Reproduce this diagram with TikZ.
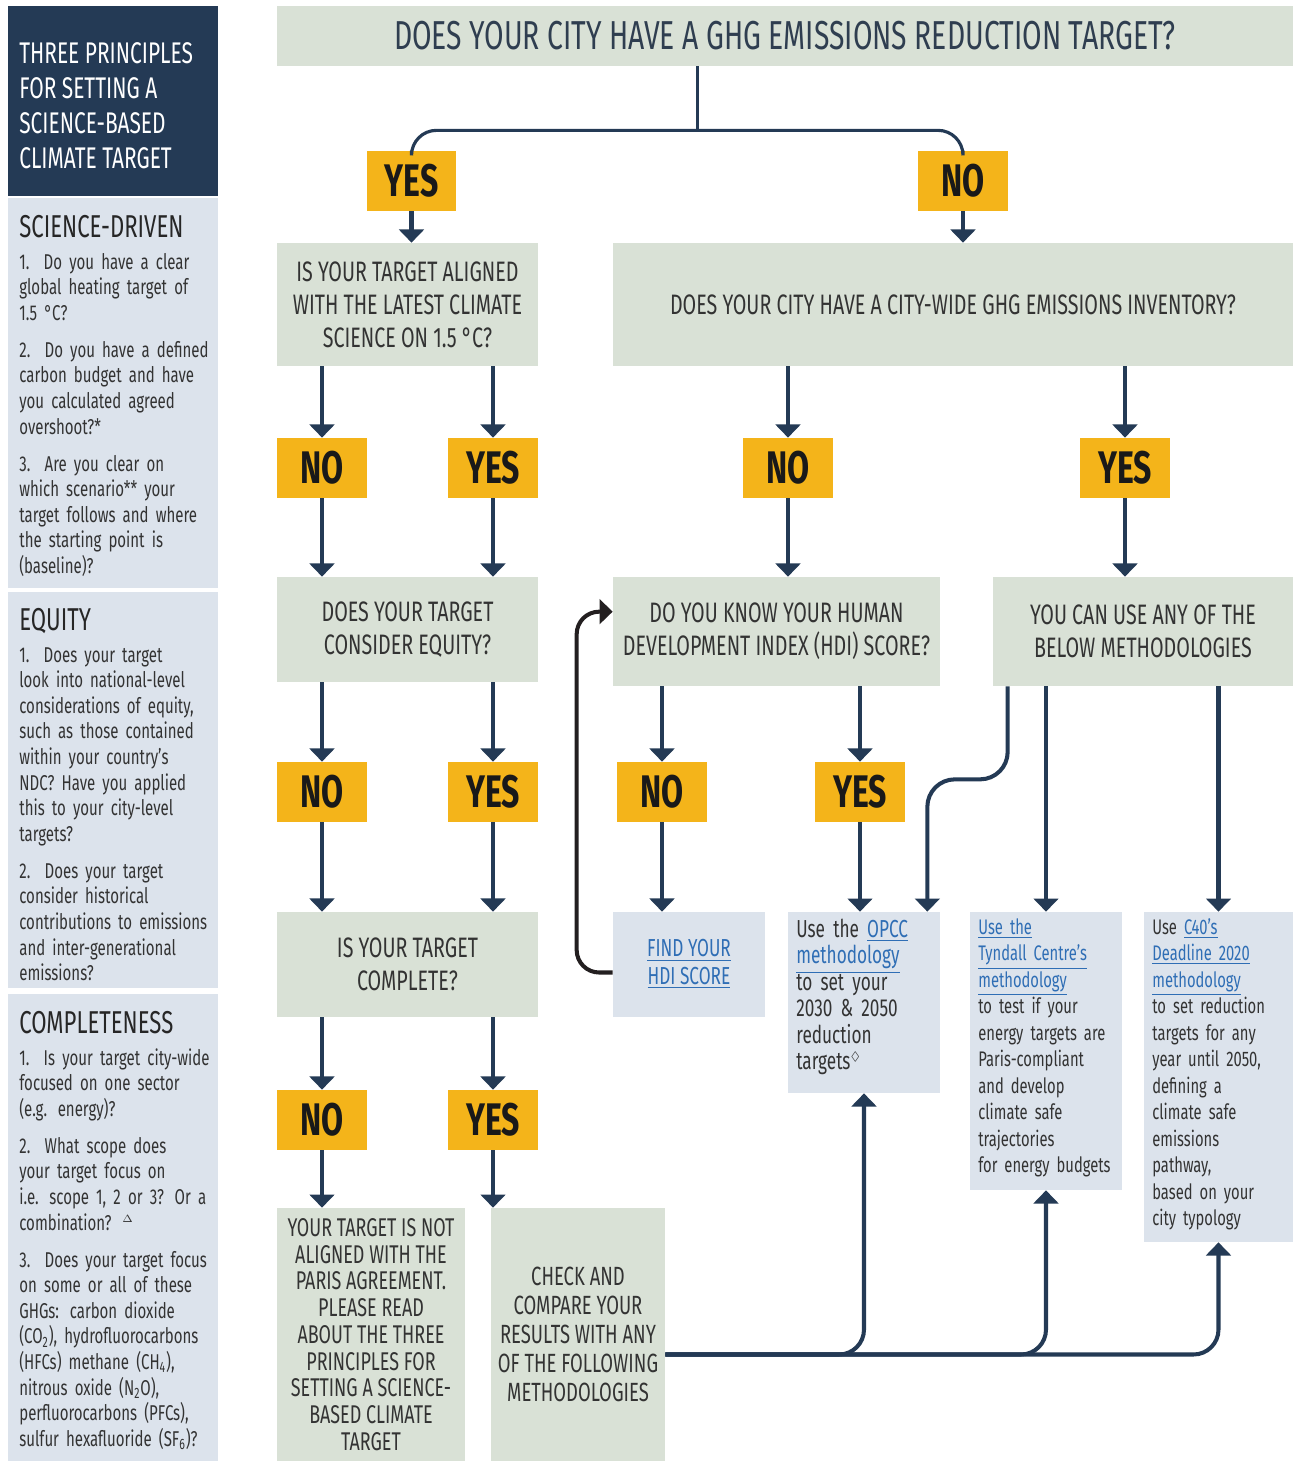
\documentclass[tikz,border=0pt]{standalone}
\usepackage{amssymb}
\usepackage{fontspec}
\setmainfont{Fira Sans}[FakeStretch=0.7]
\usepackage{tikz}
\usetikzlibrary{arrows.meta}
\usetikzlibrary{calc}
\definecolor{navy}{HTML}{243A55}
\definecolor{sage}{HTML}{D9E1D6}
\definecolor{paleblue}{HTML}{DCE3EC}
\definecolor{amber}{HTML}{F4B41A}
\definecolor{inktext}{HTML}{333333}
\definecolor{titletext}{HTML}{2F3E50}
\definecolor{linkblue}{HTML}{2F6EB5}
\definecolor{loopink}{HTML}{231F20}
\newcommand{\weblink}[1]{\textcolor{linkblue}{\underline{#1}}}
\newcommand{\tfont}{\fontsize{23}{26}\selectfont}
\newcommand{\qfont}{\fontsize{16}{18.8}\selectfont}
\newcommand{\afont}{\fontsize{26}{26}\selectfont\bfseries}
\newcommand{\mfont}{\fontsize{12}{15.1}\selectfont}
\newcommand{\sfont}{\fontsize{12.2}{14.57}\selectfont}
\newcommand{\stfont}{\fontsize{18}{20}\selectfont}
\newcommand{\hfont}{\fontsize{17}{19.9}\selectfont}
\tikzstyle{panel}=[rectangle,fill=paleblue,minimum width=4.2cm,inner sep=0mm]
\tikzstyle{headtext}=[anchor=west,align=left,inner sep=0mm,text=white,font=\hfont]
\tikzstyle{sidetitle}=[anchor=base west,inner sep=0mm,text=black!85,font=\stfont]
\tikzstyle{sidebody}=[anchor=base west,inner sep=0mm,text width=4.6cm,align=left,text=inktext,font=\sfont]
\tikzstyle{question}=[rectangle,fill=sage,inner sep=0mm,align=center,text=inktext,font=\qfont]
\tikzstyle{answer}=[rectangle,fill=amber,inner sep=0mm,minimum width=1.8cm,minimum height=1.2cm,text=black!90,font=\afont]
\tikzstyle{method}=[rectangle,fill=paleblue,inner sep=0mm]
\tikzstyle{methodtext}=[anchor=base west,inner sep=0mm,text width=3.6cm,align=left,text=inktext,font=\mfont]
\tikzstyle{trunk}=[draw=navy,line width=1.8pt]
\tikzstyle{flow}=[draw=navy,line width=2.3pt,-{Triangle[width=14pt,length=7.5pt]},navy]
\tikzstyle{loopback}=[draw=loopink,line width=2.3pt,-{Triangle[width=14pt,length=7.5pt]},loopink]

\begin{document}
\begin{tikzpicture}[x=0.02cm,y=-0.02cm]
      \useasboundingbox (0,0) rectangle (1293,1461);
      \node[panel,fill=navy,minimum height=3.8cm] at (113,101) (head) {};
      \node[headtext] at (19,106) (headtitle) {THREE PRINCIPLES\\FOR SETTING A\\SCIENCE-BASED\\CLIMATE TARGET};
      \node[panel,minimum height=7.8cm] at (113,393) (science) {};
      \node[panel,minimum height=7.92cm] at (113,790) (equityside) {};
      \node[panel,minimum height=9.34cm] at (113,1227.5) (completeside) {};
      \node[sidetitle] at (19,237) (sciencetitle) {SCIENCE-DRIVEN};
      \node[sidebody] at (19,269) (sciencebody) {1.\ \ Do you have a clear\\global heating target of\\1.5 °C?\\[6.5pt]2.\ \ Do you have a defined\\carbon budget and have\\you calculated agreed\\overshoot?*\\[6.5pt]3.\ \ Are you clear on\\which scenario** your\\target follows and where\\the starting point is\\(baseline)?};
      \node[sidetitle] at (19,630) (equitytitle) {EQUITY};
      \node[sidebody] at (19,662) (equitybody) {1.\ \ Does your target\\look into national-level\\considerations of equity,\\such as those contained\\within your country’s\\NDC? Have you applied\\this to your city-level\\targets?\\[6.5pt]2.\ \ Does your target\\consider historical\\contributions to emissions\\and inter-generational\\emissions?};
      \node[sidetitle] at (19,1033) (completetitle) {COMPLETENESS};
      \node[sidebody] at (19,1065) (completebody) {1.\ \ Is your target city-wide\\focused on one sector\\(e.g. energy)?\\[6.5pt]2.\ \ What scope does\\your target focus on\\i.e. scope 1, 2 or 3? Or a\\combination? $^{\scriptscriptstyle\Delta}$\\[6.5pt]3.\ \ Does your target focus\\on some or all of these\\GHGs: carbon dioxide\\(CO\textsubscript{2}), hydrofluorocarbons\\(HFCs) methane (CH\textsubscript{4}),\\nitrous oxide (N\textsubscript{2}O),\\perfluorocarbons (PFCs),\\sulfur hexafluoride (SF\textsubscript{6})?};

      \node[question,minimum width=20.32cm,minimum height=1.2cm,text=titletext,font=\tfont] at (785,36) (top) {DOES YOUR CITY HAVE A GHG EMISSIONS REDUCTION TARGET?};
      \node[answer] at (411.5,181) (yes1) {YES};
      \node[answer] at (963,181) (no1) {NO};
      \node[question,minimum width=5.22cm,minimum height=2.46cm] at (407.5,304.5) (aligned) {IS YOUR TARGET ALIGNED\\WITH THE LATEST CLIMATE\\SCIENCE ON 1.5 °C?};
      \node[question,minimum width=13.6cm,minimum height=2.46cm] at (953,304.5) (inventory) {DOES YOUR CITY HAVE A CITY-WIDE GHG EMISSIONS INVENTORY?};
      \node[answer] at (322,468) (no2a) {NO};
      \node[answer] at (493,468) (yes2a) {YES};
      \node[answer] at (788,468) (no2b) {NO};
      \node[answer] at (1125,468) (yes2b) {YES};
      \node[question,minimum width=5.22cm,minimum height=2.1cm] at (407.5,629.5) (equity) {DOES YOUR TARGET\\CONSIDER EQUITY?};
      \node[question,minimum width=6.54cm,minimum height=2.18cm] at (776.5,631.5) (hdi) {DO YOU KNOW YOUR HUMAN\\DEVELOPMENT INDEX (HDI) SCORE?};
      \node[question,minimum width=6cm,minimum height=2.18cm] at (1143,631.5) (useany) {YOU CAN USE ANY OF THE\\BELOW METHODOLOGIES};
      \node[answer] at (322,792) (no3a) {NO};
      \node[answer] at (493,792) (yes3a) {YES};
      \node[answer] at (662,792) (no3b) {NO};
      \node[answer] at (860,792) (yes3b) {YES};
      \node[question,minimum width=5.22cm,minimum height=2.1cm] at (407.5,964.5) (complete) {IS YOUR TARGET\\COMPLETE?};
      \node[method,minimum width=3.04cm,minimum height=2.1cm,align=center,font=\fontsize{14}{15.4}\selectfont] at (689,964.5) (find) {\weblink{FIND YOUR}\\\weblink{HDI SCORE}};
      \node[method,minimum width=3.04cm,minimum height=3.62cm] at (864,1002.5) (opcc) {};
      \node[method,minimum width=3.04cm,minimum height=5.56cm] at (1046,1051) (tyndall) {};
      \node[method,minimum width=2.98cm,minimum height=6.6cm] at (1218.5,1077) (c40) {};
      \node[methodtext,font=\fontsize{14}{15.1}\selectfont] at (796,937) (opcctext) {Use the \weblink{OPCC}\\\weblink{methodology}\\to set your\\2030 \& 2050\\reduction\\targets$^{\scriptscriptstyle\lozenge}$};
      \node[methodtext] at (978,934) (tyndalltext) {\weblink{Use the}\\\weblink{Tyndall Centre’s}\\\weblink{methodology}\\to test if your\\energy targets are\\Paris-compliant\\and develop\\climate safe\\trajectories\\for energy budgets};
      \node[methodtext] at (1152,934) (c40text) {Use \weblink{C40’s}\\\weblink{Deadline 2020}\\\weblink{methodology}\\to set reduction\\targets for any\\year until 2050,\\defining a\\climate safe\\emissions\\pathway,\\based on your\\city typology};
      \node[answer] at (322,1120) (no4a) {NO};
      \node[answer] at (493,1120) (yes4a) {YES};
      \node[question,minimum width=3.76cm,minimum height=5.06cm,font=\fontsize{14.6}{15.2}\selectfont] at (371,1334.5) (notaligned) {YOUR TARGET IS NOT\\ALIGNED WITH THE\\PARIS AGREEMENT.\\PLEASE READ\\ABOUT THE THREE\\PRINCIPLES FOR\\SETTING A SCIENCE-\\BASED CLIMATE\\TARGET};
      \node[question,minimum width=3.48cm,minimum height=5.06cm,font=\fontsize{15}{16.5}\selectfont] at (578,1334.5) (check) {CHECK AND\\COMPARE YOUR\\RESULTS WITH ANY\\OF THE FOLLOWING\\METHODOLOGIES};

      \coordinate (fork) at ($(top.south west)+(421,64)$);
      \draw[trunk] (top.south -| fork)--(fork);
      \draw[trunk,rounded corners=0.5cm] (yes1.north) |- (fork) -| (no1.north);
      \draw[flow] (yes1.south)--(yes1.south |- aligned.north);
      \draw[flow] (no1.south)--(no1.south |- inventory.north);
      \draw[flow] (no2a.north |- aligned.south)--(no2a.north);
      \draw[flow] (yes2a.north |- aligned.south)--(yes2a.north);
      \draw[flow] (no2b.north |- inventory.south)--(no2b.north);
      \draw[flow] (yes2b.north |- inventory.south)--(yes2b.north);
      \draw[flow] (no2a.south)--(no2a.south |- equity.north);
      \draw[flow] (yes2a.south)--(yes2a.south |- equity.north);
      \draw[flow] (no2b.south)--(no2b.south |- hdi.north);
      \draw[flow] (yes2b.south)--(yes2b.south |- useany.north);
      \draw[flow] (no3a.north |- equity.south)--(no3a.north);
      \draw[flow] (yes3a.north |- equity.south)--(yes3a.north);
      \draw[flow] (no3b.north |- hdi.south)--(no3b.north);
      \draw[flow] (yes3b.north |- hdi.south)--(yes3b.north);
      \draw[flow] (no3a.south)--(no3a.south |- complete.north);
      \draw[flow] (yes3a.south)--(yes3a.south |- complete.north);
      \draw[flow] (no3b.south)--(no3b.south |- find.north);
      \draw[flow] (yes3b.south)--(yes3b.south |- opcc.north);
      \draw[flow,rounded corners=0.55cm] ($(useany.south west)+(15,0)$)--++(0,93) -| ($(opcc.north east)+(-13,0)$);
      \draw[flow] (tyndall.north |- useany.south)--(tyndall.north);
      \draw[flow] (c40.north |- useany.south)--(c40.north);
      \draw[loopback,rounded corners=0.45cm] ($(find.west)+(0,8)$)--++(-36,0) |- ($(hdi.north west)+(0,35)$);
      \draw[flow] (no4a.north |- complete.south)--(no4a.north);
      \draw[flow] (yes4a.north |- complete.south)--(yes4a.north);
      \draw[flow] (no4a.south)--(no4a.south |- notaligned.north);
      \draw[flow] (yes4a.south)--(yes4a.south |- check.north);
      \draw[flow,rounded corners=0.5cm] ($(check.east)+(0,20)$) -| (opcc.south);
      \draw[flow,rounded corners=0.5cm] ($(check.east)+(0,20)$) -| (tyndall.south);
      \draw[flow,rounded corners=0.5cm] ($(check.east)+(0,20)$) -| (c40.south);
    \end{tikzpicture}
\end{document}
